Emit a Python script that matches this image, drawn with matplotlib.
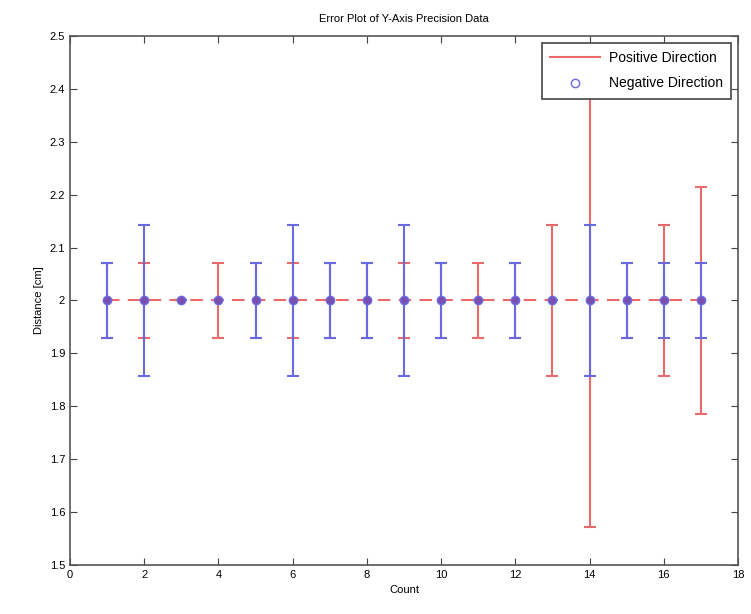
import numpy as np
import matplotlib
matplotlib.use('Agg')
import matplotlib.pyplot as plt
from matplotlib.lines import Line2D

# Data
count = [1, 2, 3, 4, 5, 6, 7, 8, 9, 10, 11, 12, 13, 14, 15, 16, 17]
pos_dist = [2.0] * 17
neg_dist = [2.0] * 17
pos_err = [0.0714, 0.0714, 0.0, 0.0714, 0.0714, 0.0714, 0.0714, 0.0714, 0.0714,
           0.0714, 0.0714, 0.0714, 0.1429, 0.4286, 0.0714, 0.1429, 0.2143]
neg_err = [0.0714, 0.1429, 0.0, 0.0, 0.0714, 0.1429, 0.0714, 0.0714, 0.1429,
           0.0714, 0.0, 0.0714, 0.0, 0.1429, 0.0714, 0.0714, 0.0714]

plt.rcParams['font.family'] = ['Liberation Sans', 'DejaVu Sans']
plt.rcParams['font.size'] = 8

fig = plt.figure(figsize=(7.51, 6.14), dpi=100)
ax = fig.add_axes([0.0932, 0.0798, 0.8895, 0.8616])

red = '#e86a6a'
blue = '#6a6ae0'

ax.errorbar(count, pos_dist, yerr=pos_err, color=red, ecolor=red, linestyle='--',
            dashes=(6, 4), marker='x', markersize=5, elinewidth=1.5, capsize=4,
            capthick=1.5, linewidth=1.5)
ax.errorbar(count, neg_dist, yerr=neg_err, color=blue, ecolor=blue, linestyle='none',
            marker='o', markersize=6, markerfacecolor='#7a4fb0', markeredgecolor=blue,
            elinewidth=1.5, capsize=4, capthick=1.5)

ax.set_xlim(0, 18)
ax.set_ylim(1.5, 2.5)
ax.set_xticks(np.arange(0, 19, 2))
ax.set_yticks(np.arange(1.5, 2.51, 0.1))
ax.set_yticklabels(['1.5', '1.6', '1.7', '1.8', '1.9', '2', '2.1', '2.2', '2.3', '2.4', '2.5'])
ax.tick_params(direction='in', top=True, right=True, length=5, color='#444444')
for s in ax.spines.values():
    s.set_color('#555555')
    s.set_linewidth(1.2)

ax.set_title('Error Plot of Y-Axis Precision Data', fontsize=8, pad=10)
ax.set_xlabel('Count', fontsize=8)
ax.set_ylabel('Distance [cm]', fontsize=8)

handles = [Line2D([], [], color=red, linewidth=1.5, linestyle='-'),
           Line2D([], [], color=blue, marker='o', markersize=6, markerfacecolor='none',
                  linestyle='none')]
leg = ax.legend(handles, ['Positive Direction', 'Negative Direction'], loc='upper right',
                fontsize=10, fancybox=False, framealpha=1, edgecolor='#444444',
                borderaxespad=0.5, borderpad=0.6, labelspacing=0.8, handlelength=3.6,
                handletextpad=0.6)
leg.get_frame().set_linewidth(1.2)

plt.savefig('out.png', dpi=100)
